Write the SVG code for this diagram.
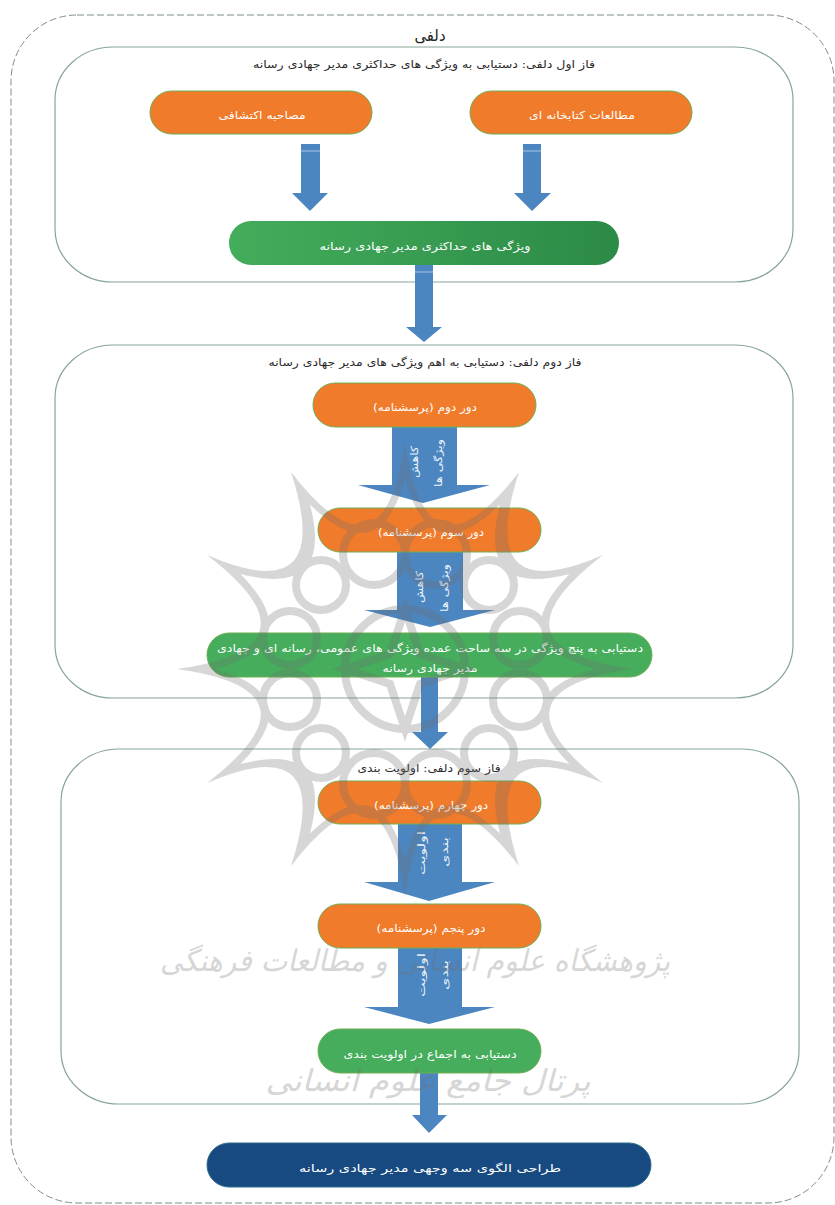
<svg xmlns="http://www.w3.org/2000/svg" width="835" height="1205" viewBox="0 0 835 1205">
<style>
text{font-family:"DejaVu Sans",sans-serif;direction:rtl;text-anchor:middle;dominant-baseline:central}
.h{fill:#2a2a2a;font-size:11px}
.t{fill:#fff;font-size:11px}
.n{stroke:#6fae55;stroke-width:1}
.o{fill:#f07b2a}
.g{fill:#45ad5c}
.phase{fill:#fff;stroke:#86a596;stroke-width:1.2}
.a{fill:#4c86c1}
.s{stroke:#bcd4ea;stroke-width:1;opacity:.8}
.v{fill:#eef4fa;font-size:10px}
.wl{fill:none;stroke:#6f6f6f;stroke-width:8}
.wt{fill:#6f6f6f;font-size:30px;font-style:italic}
</style>
<defs>
<linearGradient id="gd" x1="0" x2="1" y1="0" y2="0"><stop offset="0" stop-color="#43ad5b"/><stop offset="1" stop-color="#2c8a47"/></linearGradient>
</defs>
<rect id="delphi-frame" x="11" y="15" width="823" height="1188" rx="66" ry="66" fill="#fff" stroke="#7f8f8a" stroke-width="1" stroke-dasharray="7 3"/>
<text id="delphi-title" x="430" y="35" fill="#222" textLength="31" lengthAdjust="spacingAndGlyphs" style="font-size:16px">دلفی</text>
<g id="phase1"><rect class="phase" x="55" y="47" width="738" height="235" rx="58" ry="53"/><text class="h" x="424" y="64" textLength="342" lengthAdjust="spacingAndGlyphs">فاز اول دلفی: دستیابی به ویژگی های حداکثری مدیر جهادی رسانه</text></g>
<g id="phase2"><rect class="phase" x="55" y="345" width="738" height="353" rx="58" ry="53"/><text class="h" x="425" y="362" textLength="313" lengthAdjust="spacingAndGlyphs">فاز دوم دلفی: دستیابی به اهم ویژگی های مدیر جهادی رسانه</text></g>
<g id="phase3"><rect class="phase" x="61" y="749" width="738" height="355" rx="58" ry="53"/><text class="h" x="429" y="768" textLength="143" lengthAdjust="spacingAndGlyphs">فاز سوم دلفی: اولویت بندی</text></g>
<g id="connectors">
<polygon class="a" points="301,144 320,144 320,193 328,193 310,211 292,193 301,193"/><line class="s" x1="301" x2="320" y1="151" y2="151"/>
<polygon class="a" points="523,144 541,144 541,193 551,193 532,211 514,193 523,193"/><line class="s" x1="523" x2="541" y1="151" y2="151"/>
<polygon class="a" points="415,265 433,265 433,327 442,327 424,342 406,327 415,327"/><line class="s" x1="415" x2="433" y1="272" y2="272"/>
<polygon class="a" points="392,427 457,427 457,485 490,485 423,503 358,485 392,485"/>
<text class="v" transform="translate(414 462) rotate(-90)" textLength="32" lengthAdjust="spacingAndGlyphs">کاهش</text>
<text class="v" transform="translate(438 463) rotate(-90)" textLength="48" lengthAdjust="spacingAndGlyphs">ویژگی ها</text>
<polygon class="a" points="397,552 463,552 463,610 495,610 430,627 364,610 397,610"/>
<text class="v" transform="translate(419 587) rotate(-90)" textLength="32" lengthAdjust="spacingAndGlyphs">کاهش</text>
<text class="v" transform="translate(444 588) rotate(-90)" textLength="48" lengthAdjust="spacingAndGlyphs">ویژگی ها</text>
<polygon class="a" points="421,677 438,677 438,732 448,732 430,749 412,732 421,732"/>
<polygon class="a" points="398,824 462,824 462,882 495,882 429,901 364,882 398,882"/>
<text class="v" transform="translate(421 853) rotate(-90)" textLength="44" lengthAdjust="spacingAndGlyphs">اولویت</text>
<text class="v" transform="translate(444 852) rotate(-90)" textLength="30" lengthAdjust="spacingAndGlyphs">بندی</text>
<polygon class="a" points="398,948 462,948 462,1007 495,1007 429,1024 364,1007 398,1007"/>
<text class="v" transform="translate(421 975) rotate(-90)" textLength="44" lengthAdjust="spacingAndGlyphs">اولویت</text>
<text class="v" transform="translate(444 975) rotate(-90)" textLength="30" lengthAdjust="spacingAndGlyphs">بندی</text>
<polygon class="a" points="420,1073 438,1073 438,1115 447,1115 429,1133 412,1115 420,1115"/>
</g>
<g id="n-interview"><rect class="n o" x="150" y="91" width="222" height="43" rx="21.5"/><text class="t" x="262" y="115" textLength="87" lengthAdjust="spacingAndGlyphs">مصاحبه اکتشافی</text></g>
<g id="n-library"><rect class="n o" x="470" y="91" width="222" height="43" rx="21.5"/><text class="t" x="582" y="115" textLength="106" lengthAdjust="spacingAndGlyphs">مطالعات کتابخانه ای</text></g>
<g id="n-features"><rect x="229" y="221" width="390" height="44" rx="22" fill="url(#gd)"/><text class="t" x="425" y="246" textLength="211" lengthAdjust="spacingAndGlyphs">ویژگی های حداکثری مدیر جهادی رسانه</text></g>
<g id="n-round2"><rect class="n o" x="313" y="383" width="223" height="44" rx="22"/><text class="t" x="425" y="407" textLength="104" lengthAdjust="spacingAndGlyphs">دور دوم (پرسشنامه)</text></g>
<g id="n-round3"><rect class="n o" x="318" y="508" width="223" height="44" rx="22"/><text class="t" x="431" y="532" textLength="106" lengthAdjust="spacingAndGlyphs">دور سوم (پرسشنامه)</text></g>
<g id="n-five"><rect class="n g" x="207" y="633" width="445" height="44" rx="22"/><text class="t" x="430" y="648" textLength="426" lengthAdjust="spacingAndGlyphs">دستیابی به پنج ویژگی در سه ساحت عمده ویژگی های عمومی، رسانه ای و جهادی</text><text class="t" x="430" y="668" textLength="95" lengthAdjust="spacingAndGlyphs">مدیر جهادی رسانه</text></g>
<g id="n-round4"><rect class="n o" x="318" y="781" width="223" height="43" rx="21.5"/><text class="t" x="431" y="805" textLength="114" lengthAdjust="spacingAndGlyphs">دور چهارم (پرسشنامه)</text></g>
<g id="n-round5"><rect class="n o" x="318" y="904" width="223" height="44" rx="22"/><text class="t" x="431" y="928" textLength="109" lengthAdjust="spacingAndGlyphs">دور پنجم (پرسشنامه)</text></g>
<g id="n-consensus"><rect class="n g" x="318" y="1029" width="223" height="44" rx="22"/><text class="t" x="430" y="1054" textLength="173" lengthAdjust="spacingAndGlyphs">دستیابی به اجماع در اولویت بندی</text></g>
<g id="n-model"><rect x="207" y="1143" width="444" height="44" rx="22" fill="#174a80" stroke="#2d6a8a"/><text class="t" x="430" y="1168" textLength="262" lengthAdjust="spacingAndGlyphs">طراحی الگوی سه وجهی مدیر جهادی رسانه</text></g>
<g id="watermark" opacity=".28">
<path fill="#6f6f6f" fill-rule="evenodd" d="M633 669Q482 648 603 555Q474 611 519 472Q426 592 405 441Q384 592 291 472Q336 611 207 555Q328 648 177 669Q328 690 207 783Q336 727 291 866Q384 746 405 897Q426 746 519 866Q474 727 603 783Q482 690 633 669Z M595 669Q501.6 643.1 569.5 574Q475.7 598.3 500 504.5Q430.9 572.4 405 479Q379.1 572.4 310 504.5Q334.3 598.3 240.5 574Q308.4 643.1 215 669Q308.4 694.9 240.5 764Q334.3 739.7 310 833.5Q379.1 765.6 405 859Q430.9 765.6 500 833.5Q475.7 739.7 569.5 764Q501.6 694.9 595 669Z"/>
<circle class="wl" cx="489" cy="585" r="25"/><circle class="wl" cx="321" cy="585" r="25"/><circle class="wl" cx="489" cy="753" r="25"/><circle class="wl" cx="321" cy="753" r="25"/>
<circle class="wl" cx="374" cy="554" r="31"/><circle class="wl" cx="436" cy="554" r="31"/><circle class="wl" cx="374" cy="784" r="31"/><circle class="wl" cx="436" cy="784" r="31"/>
<circle class="wl" cx="290" cy="638" r="27"/><circle class="wl" cx="520" cy="638" r="27"/><circle class="wl" cx="290" cy="700" r="27"/><circle class="wl" cx="520" cy="700" r="27"/>
<circle class="wl" cx="405" cy="669" r="60"/>
<path class="wl" d="M405 609L420 654L465 669L420 684L405 729L390 684L345 669L390 654Z"/>
<text class="wt" x="415" y="960" textLength="510" lengthAdjust="spacingAndGlyphs">پژوهشگاه علوم انسانی و مطالعات فرهنگی</text>
<text class="wt" x="428" y="1080" textLength="325" lengthAdjust="spacingAndGlyphs">پرتال جامع علوم انسانی</text>
</g>
</svg>
